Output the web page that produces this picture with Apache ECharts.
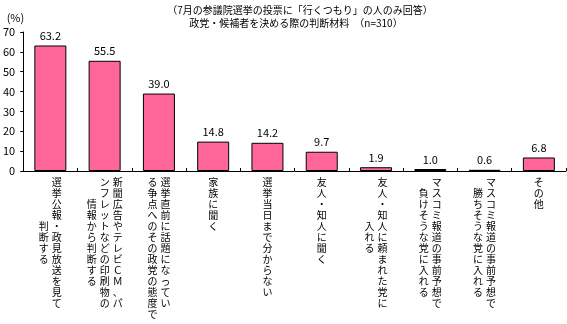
<!DOCTYPE html>
<html><head><meta charset="utf-8">
<script src="https://cdn.jsdelivr.net/npm/echarts@6/dist/echarts.min.js"></script>
<style>html,body{margin:0;padding:0;background:#fff}#c{width:567px;height:324px}</style>
</head><body><div id="c"></div>
<script>
// Category labels: "/" separates vertical columns (first = rightmost)
var categories = [
  '選挙公報・政見放送を見て/判断する',
  '新聞広告やテレビＣＭ、パ/ンフレットなどの印刷物の/情報から判断する',
  '選挙直前に話題になってい/る争点へのその政党の態度で',
  '家族に聞く',
  '選挙当日まで分からない',
  '友人・知人に聞く',
  '友人・知人に頼まれた党に/入れる',
  'マスコミ報道の事前予想で/負けそうな党に入れる',
  'マスコミ報道の事前予想で/勝ちそうな党に入れる',
  'その他'
];
var values = [63.2, 55.5, 39.0, 14.8, 14.2, 9.7, 1.9, 1.0, 0.6, 6.8];
var titleLine1 = '（7月の参議院選挙の投票に「行くつもり」の人のみ回答）';
var titleLine2 = '政党・候補者を決める際の判断材料　（n=310）';
var yName = '(%)';

var FONT = '"Noto Sans CJK JP", "Noto Sans", sans-serif';

function verticalLabel(s) {
  var cols = s.split('/').map(function (c) { return Array.from(c); });
  var maxLen = Math.max.apply(null, cols.map(function (c) { return c.length; }));
  var offs = cols.map(function (c) { return Math.floor((maxLen - c.length) / 2); });
  var lines = [];
  for (var i = 0; i < maxLen; i++) {
    var row = '';
    for (var k = cols.length - 1; k >= 0; k--) {
      var ch = cols[k][i - offs[k]];
      row += '{c|' + (ch === undefined ? '　' : ch) + '}';
    }
    lines.push(row);
  }
  return lines.join('\n');
}

var chart = echarts.init(document.getElementById('c'), null, {renderer: 'canvas'});
chart.setOption({
  animation: false,
  backgroundColor: '#fff',
  textStyle: {fontFamily: FONT},
  title: [
    {text: titleLine1, left: 295, top: 0, textAlign: 'center',
     textStyle: {fontSize: 10, fontWeight: 'normal', color: '#000', fontFamily: FONT}},
    {text: titleLine2, left: 291, top: 13, textAlign: 'center',
     textStyle: {fontSize: 10, fontWeight: 'normal', color: '#000', fontFamily: FONT}}
  ],
  grid: {left: 22, right: 1, top: 32, bottom: 153, containLabel: false},
  xAxis: {
    type: 'category',
    data: categories,
    axisLine: {lineStyle: {color: '#000', width: 1}},
    axisTick: {show: true, inside: true, length: 3, lineStyle: {color: '#000'}},
    axisLabel: {
      interval: 0, margin: 6, color: '#000',
      formatter: function (v) { return verticalLabel(v); },
      rich: {c: {fontSize: 10, lineHeight: 11, width: 13, align: 'center', fontFamily: FONT, color: '#000'}}
    }
  },
  yAxis: {
    type: 'value', min: 0, max: 70, interval: 10,
    name: yName, nameLocation: 'end', nameGap: 9,
    nameTextStyle: {fontSize: 11, color: '#000', align: 'right', padding: [0, -1, 0, 0], fontFamily: FONT},
    splitLine: {show: false},
    axisLine: {show: true, lineStyle: {color: '#000', width: 1}},
    axisTick: {show: true, inside: false, length: 3, lineStyle: {color: '#000'}},
    axisLabel: {fontSize: 11, color: '#000', margin: 8, fontFamily: FONT}
  },
  series: [{
    type: 'bar',
    data: values,
    barWidth: 32,
    itemStyle: {color: '#FF6699', borderColor: '#000', borderWidth: 1},
    label: {
      show: true, position: 'top', distance: 4, fontSize: 11, color: '#000', fontFamily: FONT,
      formatter: function (p) { return p.value.toFixed(1); }
    }
  }]
});
</script></body></html>
